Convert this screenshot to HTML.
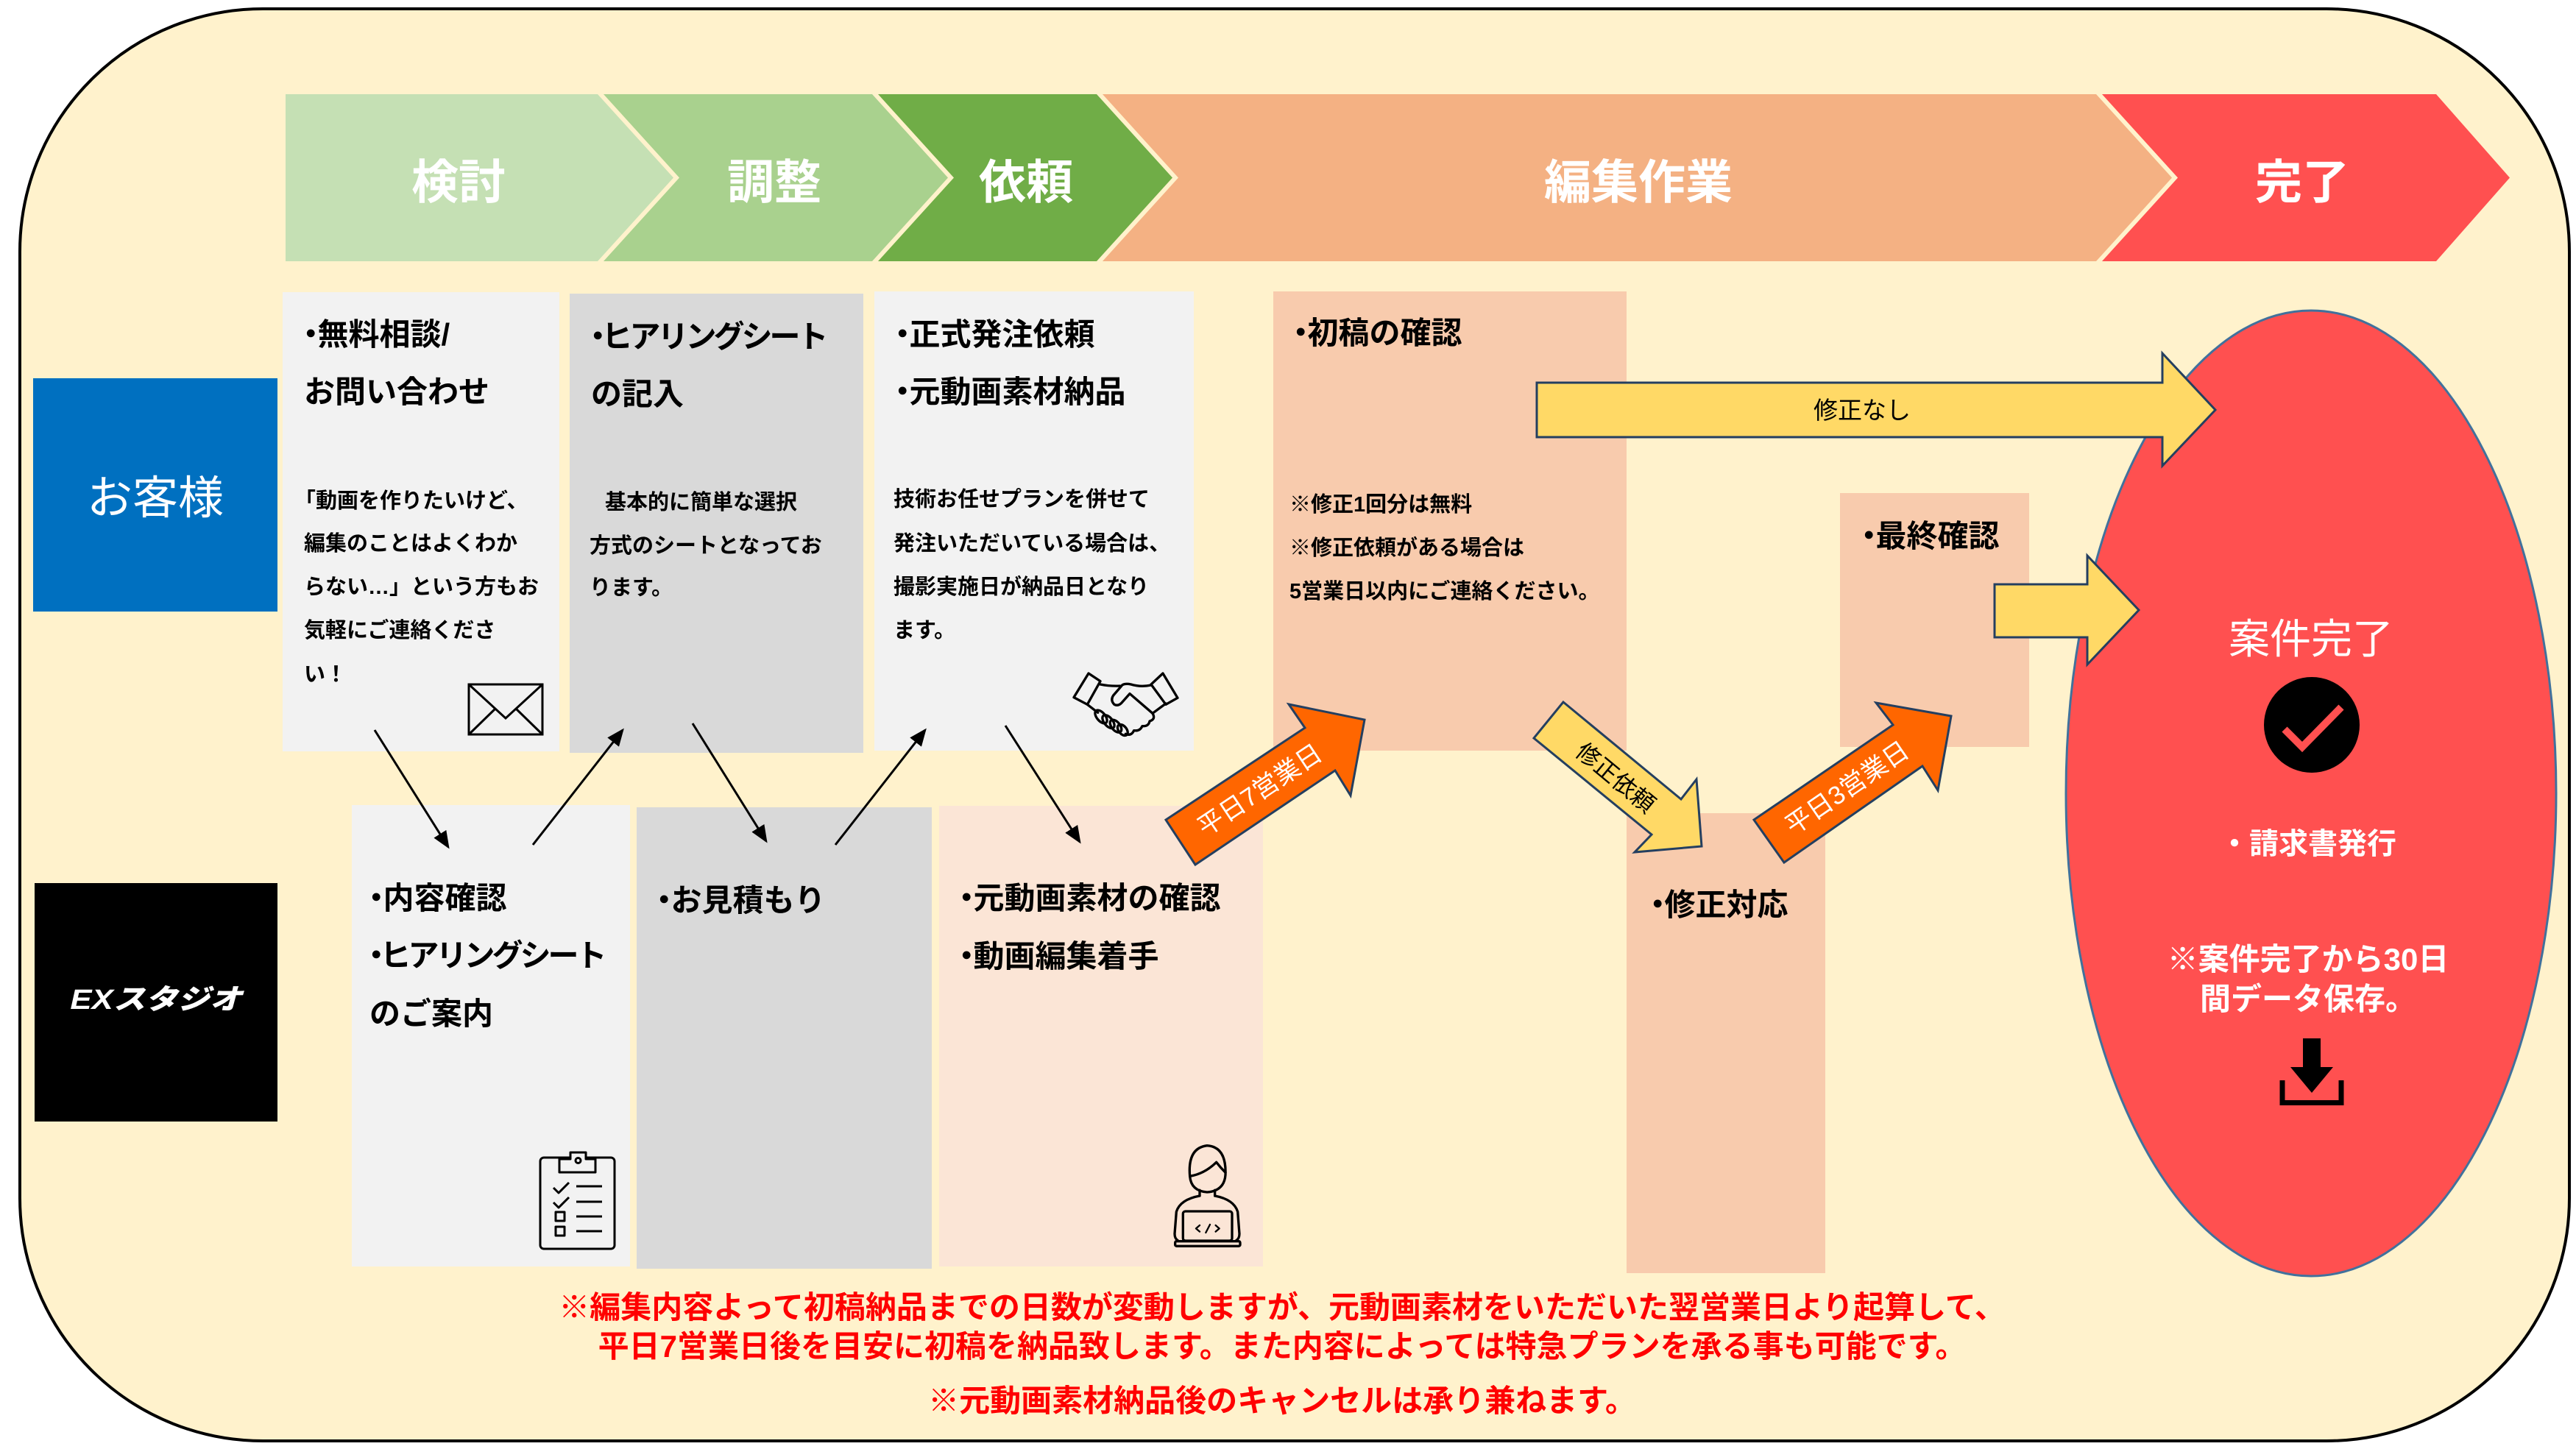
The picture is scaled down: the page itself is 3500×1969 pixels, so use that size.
<!DOCTYPE html>
<html><head><meta charset="utf-8">
<style>
html,body{margin:0;padding:0;background:#fff;}
#c{position:relative;width:3500px;height:1969px;overflow:hidden;background:#fff;font-family:"Liberation Sans","Noto Sans CJK JP",sans-serif;}
.t{position:absolute;white-space:nowrap;line-height:1;font-weight:bold;color:#000;}
.h{font-size:42px;}
.b{font-size:29px;}
.d{margin-left:-0.28em;margin-right:-0.28em;}
.w{color:#fff;}
.rot{position:absolute;white-space:nowrap;line-height:1;}
</style></head><body><div id="c">
<svg width="3500" height="1969" style="position:absolute;left:0;top:0" xmlns="http://www.w3.org/2000/svg">
<defs>
<marker id="ah" markerWidth="24" markerHeight="20" refX="21" refY="10" orient="auto" markerUnits="userSpaceOnUse"><path d="M0,0 L24,10 L0,20 Z" fill="#000"/></marker>
</defs>
<rect x="27" y="12" width="3464" height="1946" rx="330" ry="330" fill="#FFF2CC" stroke="#000" stroke-width="4"/>
<polygon points="388,128 812,128 915,241.5 812,355 388,355" fill="#C5E0B4"/>
<polygon points="820,128 1185,128 1288,241.5 1185,355 820,355 923,241.5" fill="#A9D18E"/>
<polygon points="1193,128 1490,128 1593,241.5 1490,355 1193,355 1296,241.5" fill="#70AD47"/>
<polygon points="1498,128 2848,128 2951,241.5 2848,355 1498,355 1601,241.5" fill="#F4B183"/>
<polygon points="2856,128 3310,128 3410,241.5 3310,355 2856,355 2959,241.5" fill="#FF5050"/>
<rect x="45" y="514" width="332" height="317" fill="#0070C0"/>
<rect x="47" y="1200" width="330" height="324" fill="#000"/>
<rect x="384" y="397" width="376" height="624" fill="#F2F2F2"/>
<rect x="774" y="399" width="399" height="624" fill="#D9D9D9"/>
<rect x="1188" y="396" width="434" height="624" fill="#F2F2F2"/>
<rect x="1730" y="396" width="480" height="624" fill="#F8CBAD"/>
<rect x="2500" y="670" width="257" height="345" fill="#F8CBAD"/>
<rect x="478" y="1094" width="378" height="627" fill="#F2F2F2"/>
<rect x="865" y="1097" width="401" height="627" fill="#D9D9D9"/>
<rect x="1276" y="1095" width="440" height="626" fill="#FBE5D6"/>
<rect x="2210" y="1105" width="270" height="625" fill="#F8CBAD"/>
<ellipse cx="3140" cy="1078" rx="333" ry="656" fill="#FF5050" stroke="#41719C" stroke-width="3"/>
<circle cx="3141" cy="985" r="65" fill="#000"/>
<polyline points="3104,991 3128,1015 3181,961" fill="none" stroke="#FF5050" stroke-width="10"/>
<rect x="3129" y="1411" width="24" height="44" fill="#000"/>
<polygon points="3112,1450 3170,1450 3141,1485" fill="#000"/>
<path d="M3101,1468 V1498.5 H3181 V1468" fill="none" stroke="#000" stroke-width="7"/>
<polygon points="2088,520 2938,520 2938,480 3010,557 2938,633 2938,594 2088,594" fill="#FFD966" stroke="#243F60" stroke-width="3"/>
<polygon points="2710,794 2836,794 2836,755 2906,829 2836,903 2836,866 2710,866" fill="#FFD966" stroke="#243F60" stroke-width="3"/>
<polygon points="1584,1114 1773,989 1751,957 1854,978 1835,1081 1814,1047 1624,1175" fill="#FF6600" stroke="#243F60" stroke-width="3"/>
<polygon points="2124,954 2284,1086 2305,1059 2312,1150 2221,1158 2244,1134 2084,1003" fill="#FFD966" stroke="#243F60" stroke-width="3"/>
<polygon points="2383,1114 2572,985 2549,955 2651,973 2633,1074 2612,1041 2424,1172" fill="#FF6600" stroke="#243F60" stroke-width="3"/>
<g stroke="#000" stroke-width="3" fill="none">
<line x1="509" y1="992" x2="609" y2="1151" marker-end="url(#ah)"/>
<line x1="724" y1="1148" x2="846" y2="992" marker-end="url(#ah)"/>
<line x1="941" y1="983" x2="1041" y2="1143" marker-end="url(#ah)"/>
<line x1="1135" y1="1148" x2="1257" y2="992" marker-end="url(#ah)"/>
<line x1="1366" y1="986" x2="1467" y2="1144" marker-end="url(#ah)"/>
</g>
<g stroke="#000" stroke-width="3" fill="none">
<rect x="637" y="930" width="100" height="68"/>
<path d="M637,930 L687,976 L737,930 M637,998 L673,963 M737,998 L701,963"/>
</g>
<g transform="translate(1440,880) scale(0.3333)" stroke="#000" stroke-width="10" fill="none" stroke-linejoin="round" stroke-linecap="round">
<path d="M57,203 L117,105 L165,137 L112,232 Z"/>
<path d="M372,150 L420,105 L480,205 L432,232 Z"/>
<path d="M165,150 Q205,158 245,156"/>
<path d="M372,153 Q330,162 290,150 Q268,145 255,152 L218,195 Q205,215 222,232 Q238,240 252,225 L285,188 L378,268 L432,228"/>
<path d="M378,268 Q392,292 366,300 Q362,322 336,320 Q326,342 302,338 Q292,362 268,352"/>
<path d="M112,232 L155,265"/>
<ellipse cx="168" cy="282" rx="32" ry="17" transform="rotate(50 168 282)"/>
<ellipse cx="198" cy="302" rx="32" ry="17" transform="rotate(50 198 302)"/>
<ellipse cx="228" cy="320" rx="30" ry="17" transform="rotate(50 228 320)"/>
<ellipse cx="256" cy="336" rx="26" ry="16" transform="rotate(50 256 336)"/>
</g>
<g stroke="#000" stroke-width="3" fill="none" stroke-linejoin="round">
<rect x="734" y="1573" width="101" height="124" rx="5"/>
<path d="M760,1593 V1575 H775 V1566 H796 V1575 H809 V1593 Z" fill="#F2F2F2"/>
<circle cx="785.5" cy="1577" r="3.5"/>
<polyline points="752,1614 759,1621 773,1607"/>
<polyline points="752,1634 759,1641 773,1627"/>
<rect x="755" y="1647" width="12" height="12"/>
<rect x="755" y="1667" width="12" height="12"/>
<path d="M783,1612 H818 M783,1633 H818 M783,1653 H818 M783,1673 H818"/>
</g>
<g transform="translate(1570,1540) scale(0.3333)" stroke="#000" stroke-width="10" fill="none" stroke-linejoin="round" stroke-linecap="round">
<path d="M140,175 Q130,60 210,50 Q290,55 285,170 Q280,235 210,240 Q145,235 140,175 Z"/>
<path d="M140,175 Q200,165 248,118 Q265,140 285,160"/>
<path d="M180,232 L180,255 M242,232 L242,255"/>
<path d="M180,255 Q100,270 85,320 L78,410 Q78,430 92,438"/>
<path d="M242,255 Q320,270 335,320 L342,410 Q342,430 328,438"/>
<rect x="112" y="318" width="200" height="120" rx="10"/>
<rect x="80" y="440" width="265" height="20" rx="6"/>
<path d="M180,375 L165,388 L180,401 M245,375 L260,388 L245,401 M222,372 L205,405" stroke-width="7"/>
</g>
</svg>

<div class="t w" style="font-size:64px;left:123px;top:216px;width:1000px;text-align:center;">検討</div>
<div class="t w" style="font-size:64px;left:552px;top:216px;width:1000px;text-align:center;">調整</div>
<div class="t w" style="font-size:64px;left:894px;top:216px;width:1000px;text-align:center;">依頼</div>
<div class="t w" style="font-size:64px;left:1726px;top:216px;width:1000px;text-align:center;">編集作業</div>
<div class="t w" style="font-size:64px;left:2628px;top:216px;width:1000px;text-align:center;">完了</div>

<div class="t w" style="font-size:62px;font-weight:normal;left:-289px;top:647px;width:1000px;text-align:center;">お客様</div>
<div class="t w" style="font-size:38px;font-style:italic;font-weight:900;left:-88px;top:1340px;width:600px;text-align:center;transform:scaleX(1.15);">EXスタジオ</div>

<div class="t h" style="left:413px;top:434px;"><span class="d">・</span>無料相談/</div>
<div class="t h" style="left:413px;top:512px;">お問い合わせ</div>
<div class="t b" style="left:400px;top:667px;">「動画を作りたいけど、</div>
<div class="t b" style="left:413px;top:725px;">編集のことはよくわか</div>
<div class="t b" style="left:413px;top:784px;">らない…」という方もお</div>
<div class="t b" style="left:413px;top:843px;">気軽にご連絡くださ</div>
<div class="t b" style="left:413px;top:903px;">い！</div>

<div class="t h" style="left:803px;top:437px;letter-spacing:-4px;"><span class="d">・</span>ヒアリングシート</div>
<div class="t h" style="left:803px;top:515px;">の記入</div>
<div class="t b" style="left:822px;top:669px;">基本的に簡単な選択</div>
<div class="t b" style="left:801px;top:728px;">方式のシートとなってお</div>
<div class="t b" style="left:801px;top:785px;">ります。</div>

<div class="t h" style="left:1217px;top:434px;"><span class="d">・</span>正式発注依頼</div>
<div class="t h" style="left:1217px;top:512px;"><span class="d">・</span>元動画素材納品</div>
<div class="t b" style="left:1214px;top:665px;">技術お任せプランを併せて</div>
<div class="t b" style="left:1214px;top:725px;">発注いただいている場合は、</div>
<div class="t b" style="left:1214px;top:784px;">撮影実施日が納品日となり</div>
<div class="t b" style="left:1214px;top:843px;">ます。</div>

<div class="t h" style="left:1758px;top:432px;"><span class="d">・</span>初稿の確認</div>
<div class="t b" style="left:1752px;top:672px;">※修正1回分は無料</div>
<div class="t b" style="left:1752px;top:731px;">※修正依頼がある場合は</div>
<div class="t b" style="left:1752px;top:790px;">5営業日以内にご連絡ください。</div>

<div class="t h" style="left:2530px;top:708px;"><span class="d">・</span>最終確認</div>

<div class="t h" style="left:502px;top:1200px;"><span class="d">・</span>内容確認</div>
<div class="t h" style="left:502px;top:1278px;letter-spacing:-4px;"><span class="d">・</span>ヒアリングシート</div>
<div class="t h" style="left:502px;top:1357px;">のご案内</div>

<div class="t h" style="left:893px;top:1203px;"><span class="d">・</span>お見積もり</div>

<div class="t h" style="left:1304px;top:1200px;"><span class="d">・</span>元動画素材の確認</div>
<div class="t h" style="left:1304px;top:1279px;"><span class="d">・</span>動画編集着手</div>

<div class="t h" style="left:2243px;top:1209px;"><span class="d">・</span>修正対応</div>

<div class="t" style="font-size:33px;font-weight:normal;left:2030px;top:541px;width:1000px;text-align:center;">修正なし</div>
<div class="rot" style="font-size:35px;color:#fff;left:1712px;top:1074px;transform:translate(-50%,-50%) rotate(-33.7deg);">平日7営業日</div>
<div class="rot" style="font-size:35px;color:#fff;left:2510px;top:1071px;transform:translate(-50%,-50%) rotate(-34.5deg);">平日3営業日</div>
<div class="rot" style="font-size:32px;color:#000;left:2195px;top:1057px;transform:translate(-50%,-50%) rotate(39.6deg);">修正依頼</div>

<div class="t w" style="font-size:56px;font-weight:normal;left:2640px;top:841px;width:1000px;text-align:center;">案件完了</div>
<div class="t w" style="font-size:40px;left:2636px;top:1127px;width:1000px;text-align:center;">・請求書発行</div>
<div class="t w" style="font-size:42px;left:2636px;top:1283px;width:1000px;text-align:center;">※案件完了から30日</div>
<div class="t w" style="font-size:42px;left:2636px;top:1337px;width:1000px;text-align:center;">間データ保存。</div>

<div class="t" style="font-size:42px;color:#FF0000;left:0;top:1756px;width:3484px;text-align:center;">※編集内容よって初稿納品までの日数が変動しますが、元動画素材をいただいた翌営業日より起算して、</div>
<div class="t" style="font-size:42px;color:#FF0000;left:0;top:1809px;width:3484px;text-align:center;">平日7営業日後を目安に初稿を納品致します。また内容によっては特急プランを承る事も可能です。</div>
<div class="t" style="font-size:42px;color:#FF0000;left:0;top:1883px;width:3484px;text-align:center;">※元動画素材納品後のキャンセルは承り兼ねます。</div>
</div></body></html>
